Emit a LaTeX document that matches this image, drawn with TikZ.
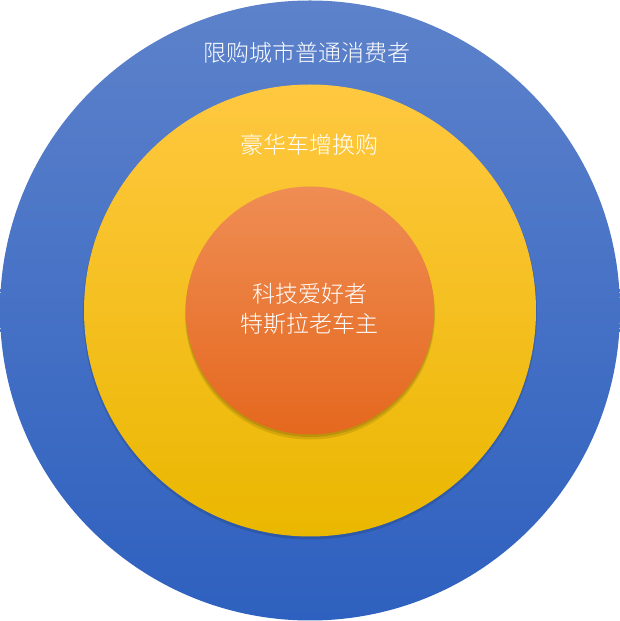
\documentclass[tikz,border=0pt]{standalone}
\usepackage{fontspec}
\usetikzlibrary{calc}
\newfontfamily\cjk{Noto Sans CJK SC Light}
\definecolor{bluetop}{RGB}{93,130,203}
\definecolor{bluemid}{RGB}{68,114,196}
\definecolor{bluebot}{RGB}{46,96,191}
\definecolor{yeltop}{RGB}{255,200,64}
\definecolor{yelmid}{RGB}{255,194,0}
\definecolor{yelbot}{RGB}{234,183,0}
\definecolor{ortop}{RGB}{239,141,84}
\definecolor{ormid}{RGB}{237,125,49}
\definecolor{orbot}{RGB}{229,104,30}
\begin{document}
\begin{tikzpicture}[x=1pt,y=1pt,
  lbl/.style={text=white,font=\cjk\fontsize{23}{30}\selectfont,inner sep=0pt,align=center}]
\useasboundingbox (0,0) rectangle (620,621);
\coordinate (c) at (310,310.5);
\shade[top color=bluetop,middle color=bluemid,bottom color=bluebot] (c) circle[radius=310];
\fill[black,opacity=0.12] ($(c)+(0,-2)$) circle[radius=227];
\shade[top color=yeltop,middle color=yelmid,bottom color=yelbot] (c) circle[radius=226];
\fill[black,opacity=0.10] ($(c)+(0,-4)$) circle[radius=125];
\fill[black,opacity=0.12] ($(c)+(0,-2)$) circle[radius=124.5];
\shade[top color=ortop,middle color=ormid,bottom color=orbot] (c) circle[radius=124];
\node[lbl] (outer) at (307,568) {限购城市普通消费者};
\node[lbl] (mid) at (309,476) {豪华车增换购};
\node[lbl] (inner) at (309.5,312) {科技爱好者\\特斯拉老车主};
\end{tikzpicture}
\end{document}
